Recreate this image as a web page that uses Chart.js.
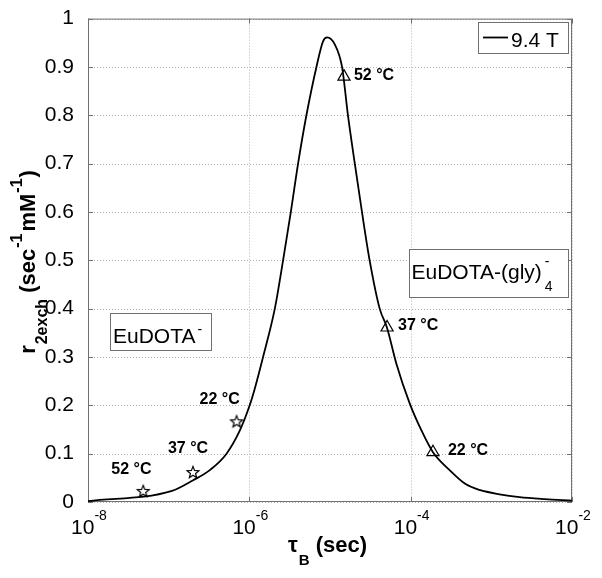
<!DOCTYPE html>
<html>
<head>
<meta charset="utf-8">
<script src="https://cdn.jsdelivr.net/npm/chart.js@4"></script>
<style>
  html, body { margin: 0; padding: 0; background: #fff; }
  #wrap { width: 602px; height: 578px; }
</style>
</head>
<body>
<div id="wrap"><canvas id="c" width="602" height="578"></canvas></div>
<script>
// curve: tau_B (sec) vs r2exch
const tauB = [1e-8, 1.1e-7, 2.01e-7, 3.24e-7, 5.22e-7, 7.63e-7, 1.01e-6, 1.17e-6, 1.48e-6, 2.07e-6,
  2.62e-6, 3.27e-6, 4.02e-6, 5.10e-6, 6.79e-6, 8.20e-6, 9.25e-6, 1.15e-5, 1.41e-5, 1.67e-5,
  2.03e-5, 2.49e-5, 3.10e-5, 4.13e-5, 5.08e-5, 6.65e-5, 9.72e-5, 1.36e-4, 1.89e-4, 3.04e-4,
  4.80e-4, 7.14e-4, 1.26e-3, 2.24e-3, 4.57e-3, 1e-2]
const r2exch = [0.002, 0.023, 0.045, 0.066, 0.100, 0.148, 0.200, 0.235, 0.300, 0.400,
  0.500, 0.600, 0.700, 0.800, 0.900, 0.953, 0.961, 0.946, 0.900, 0.800,
  0.700, 0.600, 0.500, 0.400, 0.361, 0.286, 0.204, 0.148, 0.103, 0.066,
  0.037, 0.025, 0.016, 0.010, 0.006, 0.003]

// EuDOTA- points (stars)
const starTau = [4.84e-8, 2.0e-7, 6.95e-7]
const starR2 = [0.023, 0.062, 0.167]
const starLabels = ["52 °C", "37 °C", "22 °C"]

// EuDOTA-(gly)4- points (triangles)
const triTau = [1.49e-5, 5.1e-5, 1.89e-4]
const triR2 = [0.880, 0.361, 0.103]
const triLabels = ["52 °C", "37 °C", "22 °C"]

const xTicks = [1e-8, 1e-6, 1e-4, 1e-2]
const xTickExp = ["-8", "-6", "-4", "-2"]
const yTicks = [0, 0.1, 0.2, 0.3, 0.4, 0.5, 0.6, 0.7, 0.8, 0.9, 1]

const FONT = "'Liberation Sans', Arial, Helvetica, sans-serif"
const frameColor = "#707070"
const gridColor = "#b4b4b4"

// label offsets from each marker, in px
const starLabelOffsets = [[-32, -21], [-25, -23], [-37, -22]]
const triLabelOffsets = [[10, -1], [11, -2], [15, -2]]

function makeStar() {
  const c = document.createElement("canvas")
  c.width = 16; c.height = 16
  const g = c.getContext("2d")
  g.beginPath()
  for (let i = 0; i < 10; i++) {
    const r = i % 2 ? 2.7 : 6.2
    const a = -Math.PI / 2 + i * Math.PI / 5
    g.lineTo(8 + r * Math.cos(a), 8.6 + r * Math.sin(a))
  }
  g.closePath()
  g.lineWidth = 1.2
  g.strokeStyle = "#000"
  g.stroke()
  return c
}

function setFont(ctx, size, bold) {
  ctx.font = (bold ? "bold " : "") + size + "px " + FONT
}

// draw a list of text runs along a baseline
function runsWidth(ctx, parts) {
  let w = 0
  for (const p of parts) { setFont(ctx, p.size, p.bold); w += ctx.measureText(p.t).width + (p.gap || 0) }
  return w
}
function drawRuns(ctx, parts, x, y) {
  let cx = x
  for (const p of parts) {
    setFont(ctx, p.size, p.bold)
    ctx.fillText(p.t, cx, y + (p.dy || 0))
    cx += ctx.measureText(p.t).width + (p.gap || 0)
  }
}

const decor = {
  id: "decor",
  beforeDatasetsDraw(chart) {
    const { ctx, chartArea: a, scales: { x, y } } = chart
    ctx.save()
    // dotted grid
    ctx.strokeStyle = gridColor
    ctx.lineWidth = 1
    ctx.setLineDash([1, 2])
    ctx.beginPath()
    for (const v of yTicks) {
      const py = Math.round(y.getPixelForValue(v)) + 0.5
      ctx.moveTo(a.left, py); ctx.lineTo(a.right, py)
    }
    for (const v of xTicks) {
      const px = Math.round(x.getPixelForValue(v)) + 0.5
      ctx.moveTo(px, a.top); ctx.lineTo(px, a.bottom)
    }
    ctx.stroke()
    ctx.setLineDash([])

    // frame and inner ticks
    ctx.strokeStyle = frameColor
    ctx.strokeRect(a.left + 0.5, a.top + 0.5, a.right - a.left - 1, a.bottom - a.top - 1)
    ctx.beginPath()
    for (const v of yTicks) {
      const py = Math.round(y.getPixelForValue(v)) + 0.5
      ctx.moveTo(a.left, py); ctx.lineTo(a.left + 5, py)
      ctx.moveTo(a.right, py); ctx.lineTo(a.right - 5, py)
    }
    for (const v of xTicks) {
      const px = Math.round(x.getPixelForValue(v)) + 0.5
      ctx.moveTo(px, a.bottom); ctx.lineTo(px, a.bottom - 5)
      ctx.moveTo(px, a.top); ctx.lineTo(px, a.top + 5)
    }
    ctx.stroke()
    ctx.restore()
  },
  afterDraw(chart) {
    const { ctx, scales: { x, y } } = chart
    ctx.save()
    ctx.fillStyle = "#000"
    ctx.textBaseline = "alphabetic"
    ctx.textAlign = "left"

    // x tick labels 10^n
    xTicks.forEach((v, i) => {
      const parts = [{ t: "10", size: 21 }, { t: xTickExp[i], size: 14, dy: -14 }]
      const w = runsWidth(ctx, parts)
      drawRuns(ctx, parts, x.getPixelForValue(v) - w / 2 + 1, 534)
    })

    // x title
    const xt = [{ t: "τ", size: 22, bold: true, gap: 1 }, { t: "B", size: 15, bold: true, dy: 13 },
      { t: " (sec)", size: 22, bold: true }]
    drawRuns(ctx, xt, 327.5 - runsWidth(ctx, xt) / 2, 552)

    // y title, rotated
    const yt = [{ t: "r", size: 22, bold: true, gap: 1 }, { t: "2exch", size: 16, bold: true, dy: 12 },
      { t: " (sec", size: 22, bold: true, gap: 1 }, { t: "-1", size: 16, bold: true, dy: -13, gap: 2 },
      { t: "mM", size: 22, bold: true, gap: 1 }, { t: "-1", size: 16, bold: true, dy: -13, gap: 1 },
      { t: ")", size: 22, bold: true }]
    ctx.save()
    ctx.translate(35, 262)
    ctx.rotate(-Math.PI / 2)
    drawRuns(ctx, yt, -runsWidth(ctx, yt) / 2, 0)
    ctx.restore()

    // marker labels
    setFont(ctx, 16, true)
    ctx.textBaseline = "middle"
    starTau.forEach((t, i) => {
      const px = x.getPixelForValue(t), py = y.getPixelForValue(starR2[i])
      ctx.fillText(starLabels[i], px + starLabelOffsets[i][0], py + starLabelOffsets[i][1])
    })
    triTau.forEach((t, i) => {
      const px = x.getPixelForValue(t), py = y.getPixelForValue(triR2[i])
      ctx.fillText(triLabels[i], px + triLabelOffsets[i][0], py + triLabelOffsets[i][1])
    })
    ctx.textBaseline = "alphabetic"

    // boxes
    const box = (l, t, r, b) => {
      ctx.fillStyle = "#fff"
      ctx.fillRect(l, t, r - l, b - t)
      ctx.strokeStyle = frameColor
      ctx.lineWidth = 1
      ctx.strokeRect(l + 0.5, t + 0.5, r - l - 1, b - t - 1)
      ctx.fillStyle = "#000"
    }

    // legend
    box(478, 22, 569, 54)
    ctx.strokeStyle = "#000"
    ctx.lineWidth = 1.8
    ctx.beginPath(); ctx.moveTo(483, 37.5); ctx.lineTo(508, 37.5); ctx.stroke()
    setFont(ctx, 21, false)
    ctx.fillText("9.4 T", 511, 46.5)

    // EuDOTA- box
    box(110, 313, 212, 351)
    drawRuns(ctx, [{ t: "EuDOTA", size: 21, gap: 2 }, { t: "-", size: 14, dy: -9 }], 113, 343.3)

    // EuDOTA-(gly)4- box
    box(409, 249, 569, 298)
    setFont(ctx, 21, false)
    ctx.fillText("EuDOTA-(gly)", 411.5, 278.5)
    const sx = 411.5 + ctx.measureText("EuDOTA-(gly)").width + 3
    setFont(ctx, 14, false)
    ctx.fillText("-", sx, 265.5)
    ctx.fillText("4", sx, 291)

    ctx.restore()
  }
}

const ctx = document.getElementById("c")
new Chart(ctx, {
  type: "scatter",
  data: {
    datasets: [
      {
        label: "9.4 T",
        data: tauB.map((t, i) => ({ x: t, y: r2exch[i] })),
        showLine: true,
        borderColor: "#000",
        borderWidth: 1.8,
        pointRadius: 0,
        cubicInterpolationMode: "monotone",
        order: 2,
      },
      {
        label: "EuDOTA-",
        data: starTau.map((t, i) => ({ x: t, y: starR2[i] })),
        pointStyle: makeStar(),
        pointRadius: 7,
        order: 1,
      },
      {
        label: "EuDOTA-(gly)4-",
        data: triTau.map((t, i) => ({ x: t, y: triR2[i] })),
        pointStyle: "triangle",
        pointRadius: 7,
        backgroundColor: "rgba(0,0,0,0)",
        borderColor: "#000",
        borderWidth: 1.2,
        order: 1,
      },
    ]
  },
  options: {
    responsive: false,
    animation: false,
    devicePixelRatio: 1,
    layout: { padding: { top: 17, right: 30, left: 0, bottom: 0 } },
    plugins: { legend: { display: false }, tooltip: { enabled: false } },
    scales: {
      x: {
        type: "logarithmic",
        min: 1e-8,
        max: 1e-2,
        afterBuildTicks: (s) => { s.ticks = xTicks.map(v => ({ value: v })) },
        afterFit: (s) => { s.height = 76 },
        ticks: { display: false },
        grid: { display: false },
        border: { display: false },
      },
      y: {
        min: 0,
        max: 1,
        afterBuildTicks: (s) => { s.ticks = yTicks.map(v => ({ value: v })) },
        afterFit: (s) => { s.width = 88 },
        ticks: {
          color: "#000",
          font: { family: FONT, size: 21 },
          padding: 6,
          callback: (v) => String(Math.round(v * 10) / 10),
        },
        grid: { display: false },
        border: { display: false },
      }
    }
  },
  plugins: [decor]
})
</script>
</body>
</html>
